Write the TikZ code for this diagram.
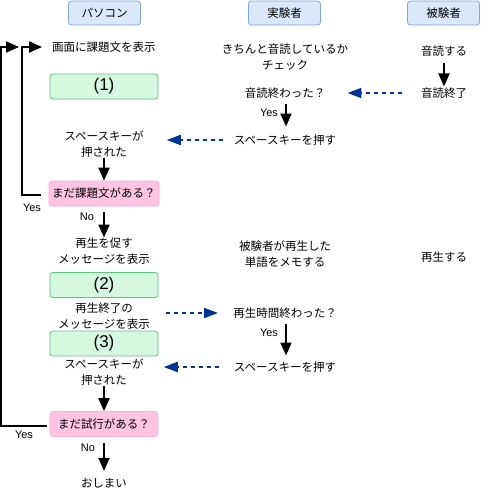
\documentclass[tikz,border=0pt]{standalone}
\usepackage{fontspec}
\setmainfont{Noto Sans CJK JP}
\newfontfamily\latin{Liberation Sans}
\usetikzlibrary{calc,positioning,arrows.meta}
\definecolor{headfill}{HTML}{DAE8FC}
\definecolor{headline}{HTML}{7EA6E0}
\definecolor{secfill}{HTML}{D6F8E0}
\definecolor{secline}{HTML}{5CC47E}
\definecolor{askfill}{HTML}{FFC4E2}
\definecolor{askline}{HTML}{FFAED6}
\definecolor{cueblue}{HTML}{003399}
\tikzset{
  head/.style={draw=headline,fill=headfill,rounded corners=3pt,minimum width=72pt,minimum height=24pt,line width=0.8pt},
  sect/.style={draw=secline,fill=secfill,rounded corners=3pt,minimum width=108pt,minimum height=25pt,line width=0.8pt,font=\latin\fontsize{17}{17}\selectfont},
  ask/.style={draw=askline,fill=askfill,rounded corners=3pt,minimum width=108pt,minimum height=25pt,line width=0.8pt},
  txt/.style={inner sep=0pt,align=center},
  lbl/.style={inner sep=0pt,font=\latin\fontsize{11}{13}\selectfont},
  flow/.style={-{Triangle[length=13pt,width=11pt]},line width=2pt},
  cue/.style={-{Triangle[length=14pt,width=10pt]},line width=2pt,draw=cueblue,dash pattern=on 4pt off 4pt}
}
\begin{document}
\begin{tikzpicture}[x=1pt,y=-1pt,font=\fontsize{11.5}{16}\selectfont]
\useasboundingbox (0,0) rectangle (480,488);
% headers
\node[head] (hPC) at (104.5,13) {パソコン};
\node[head] (hExp) at (284.5,13) {実験者};
\node[head] (hSub) at (443.5,13) {被験者};
% PC column
\node[txt] (show1) at (104,47) {画面に課題文を表示};
\node[sect] (sec1) at (104,86.5) {(1)};
\node[txt] (press1) at (104,144) {スペースキーが\\押された};
\node[ask] (more1) at (104,193.5) {まだ課題文がある？};
\node[lbl] (yes1) at (32,208) {Yes};
\node[lbl] (no1) at (87,217) {No};
\node[txt] (prompt) at (104,251) {再生を促す\\メッセージを表示};
\node[sect] (sec2) at (104,285) {(2)};
\node[txt] (endmsg) at (104,316) {再生終了の\\メッセージを表示};
\node[sect] (sec3) at (104,343.5) {(3)};
\node[txt] (press2) at (104,372) {スペースキーが\\押された};
\node[ask] (more2) at (104,424) {まだ試行がある？};
\node[lbl] (yes2) at (24,435) {Yes};
\node[lbl] (no2) at (88,448) {No};
\node[txt] (owari) at (104,483) {おしまい};
% experimenter column
\node[txt] (check) at (285,57) {きちんと音読しているか\\チェック};
\node[txt] (done1) at (285,93) {音読終わった？};
\node[lbl] (yes3) at (269,113) {Yes};
\node[txt] (push1) at (285,140) {スペースキーを押す};
\node[txt] (memo) at (285,254.5) {被験者が再生した\\単語をメモする};
\node[txt] (done2) at (285,313) {再生時間終わった？};
\node[lbl] (yes4) at (269,333) {Yes};
\node[txt] (push2) at (285,367) {スペースキーを押す};
% subject column
\node[txt] (read) at (444,51) {音読する};
\node[txt] (readend) at (444,93) {音読終了};
\node[txt] (play) at (444,257) {再生する};
% flow arrows
\draw[flow] (press1.south) -- (more1.north);
\draw[flow,shorten <=6pt] (more1.south) -- (prompt.north);
\draw[flow] (press2.south) -- (more2.north);
\draw[flow,shorten <=6pt,shorten >=7pt] (more2.south) -- (owari.north);
\draw[flow,shorten <=5pt,shorten >=8pt] ([xshift=1pt]done1.south) -- ([xshift=1pt]push1.north);
\draw[flow,shorten <=5pt,shorten >=6pt] ([xshift=1pt]done2.south) -- ([xshift=1pt]push2.north);
\draw[flow,shorten <=6pt,shorten >=1pt] (read.south) -- (readend.north);
% loops
\draw[flow] ($(more1.west)+(-8,1.5)$) -- ++(-19,0) |- ($(show1.west)+(-10,0)$);
\draw[flow] ($(more2.west)+(-3,2)$) -- ++(-46,0) |- ($(show1.west)+(-33,0)$);
% cues between columns
\draw[cue,shorten <=19pt,shorten >=22pt] (readend.west) -- (done1.east);
\draw[cue,shorten <=11pt,shorten >=23pt] (push1.west) -- (push1.west -| press1.east);
\draw[cue,shorten <=16pt,shorten >=15pt] (endmsg.east |- done2.west) -- (done2.west);
\draw[cue,shorten <=15pt,shorten >=20pt] (push2.west) -- (push2.west -| press2.east);
\end{tikzpicture}
\end{document}
